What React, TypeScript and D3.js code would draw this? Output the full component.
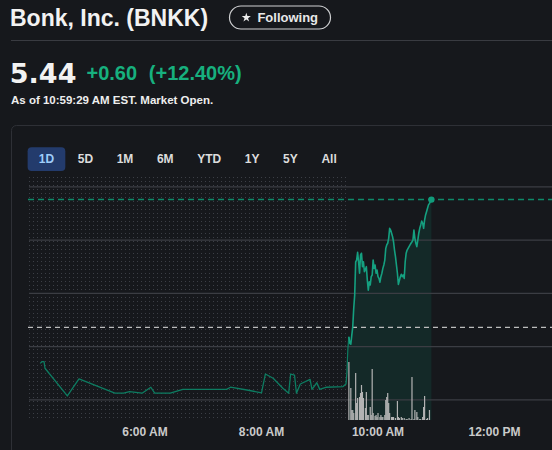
import React, { useMemo } from 'react';
import * as d3 from 'd3';

// Header content
const companyTitle = 'Bonk, Inc. (BNKK)';
const followLabel = 'Following';
const lastPrice = 5.44;
const prevClose = 4.84;
const changeLabel = '+0.60';
const changePctLabel = '(+12.40%)';
const asOfLabel = 'As of 10:59:29 AM EST. Market Open.';
const rangeTabs = ['1D', '5D', '1M', '6M', 'YTD', '1Y', '5Y', 'All'];

// Axes
const priceGrid = [4.5, 4.75, 5.0, 5.25, 5.5];
const timeTicks = ['6:00', '8:00', '10:00', '12:00'];
const dayStart = '4:00';
const dayEnd = '16:00';
const sessionOpen = '9:30';

// Pre-market trades (time, price)
const preTimes = [
  '4:12', '4:14', '4:16', '4:17', '4:40', '4:52', '5:29', '5:38', '5:44', '5:57',
  '6:06', '6:10', '6:26', '6:39', '7:24', '7:28', '7:45', '8:00', '8:04', '8:12',
  '8:22', '8:28', '8:30', '8:34', '8:36', '8:40', '8:50', '8:52', '8:57', '9:00',
  '9:07', '9:24', '9:27', '9:28', '9:29',
];
const prePrices = [
  4.671, 4.679, 4.679, 4.648, 4.518, 4.598, 4.531, 4.531, 4.538, 4.531,
  4.559, 4.531, 4.531, 4.549, 4.549, 4.559, 4.546, 4.533, 4.621, 4.601,
  4.554, 4.531, 4.621, 4.616, 4.531, 4.574, 4.596, 4.549, 4.580, 4.549,
  4.559, 4.562, 4.574, 4.626, 4.740,
];

// Regular session, one price per minute from the open
const sessionPrices = [
  4.796, 4.765, 4.761, 4.804, 4.843, 4.930, 4.992, 5.148, 5.156, 5.192,
  5.148, 5.094, 5.180, 5.188, 5.125, 5.148, 5.101, 5.112, 5.125, 5.062,
  5.015, 5.054, 5.039, 5.078, 5.086, 5.156, 5.117, 5.133, 5.094, 5.109,
  5.078, 5.070, 5.052, 5.078, 5.094, 5.117, 5.133, 5.156, 5.211, 5.227,
  5.235, 5.258, 5.305, 5.297, 5.282, 5.266, 5.242, 5.203, 5.172, 5.133,
  5.094, 5.042, 5.060, 5.078, 5.089, 5.078, 5.086, 5.070, 5.148, 5.188,
  5.203, 5.211, 5.219, 5.227, 5.235, 5.242, 5.250, 5.297, 5.258, 5.235,
  5.219, 5.250, 5.282, 5.305, 5.321, 5.339, 5.329, 5.305, 5.344, 5.368,
  5.383, 5.399, 5.415, 5.422, 5.430, 5.440,
];

// Volume (thousand shares) by minute after the open
const volumeMinutes = [
  0, 2, 3, 4, 5, 7, 8, 9, 11, 12, 13, 14, 15, 17, 18, 19, 20, 22, 23, 24,
  25, 27, 28, 29, 30, 32, 33, 34, 35, 37, 38, 39, 40, 41, 42, 44, 45, 46, 48, 50,
  51, 52, 54, 55, 57, 59, 60, 62, 64, 65, 67, 68, 70, 71, 73, 74, 76, 77, 78, 80,
  81, 83,
];
const volumeK = [
  174, 96, 30, 30, 21, 141, 51, 66, 69, 81, 105, 84, 66, 36, 84, 15, 15, 39, 15, 153,
  21, 12, 15, 9, 21, 9, 15, 9, 9, 15, 60, 69, 81, 51, 21, 9, 9, 9, 6, 57,
  9, 6, 9, 6, 6, 3, 3, 6, 3, 129, 3, 30, 24, 9, 3, 3, 9, 39, 72, 3,
  6, 30,
];

const W = 552;
const H = 450;
const SANS = "'Liberation Sans', Arial, Helvetica, sans-serif";
const BG = '#16181c';
const GREEN = '#17b07e';

const clock = (s: string) => {
  const [h, m] = s.split(':').map(Number);
  return new Date(2025, 0, 15, h, m);
};

const textWidth = (text: string, font: string) => {
  const ctx = document.createElement('canvas').getContext('2d');
  if (!ctx) return text.length * 7;
  ctx.font = font;
  return ctx.measureText(text).width;
};

export default function App() {
  const x = d3.scaleTime().domain([clock(dayStart), clock(dayEnd)]).range([28.5, 727.5]);
  const y = d3.scaleLinear().domain([4.5, 5.5]).range([399.8, 186.8]);
  const volH = d3.scaleLinear().domain([0, 180]).range([0, 60]);

  const plotLeft = 29;
  const plotBottom = 420;
  const openX = x(clock(sessionOpen));

  const pre = preTimes.map((t, i) => ({ t: clock(t), p: prePrices[i] }));
  const session = sessionPrices.map((p, i) => ({ t: d3.timeMinute.offset(clock(sessionOpen), i), p }));
  const preWithJoin = [...pre, session[0]];
  const last = session[session.length - 1];

  const line = d3
    .line<{ t: Date; p: number }>()
    .x((d) => x(d.t))
    .y((d) => y(d.p));
  const area = d3
    .area<{ t: Date; p: number }>()
    .x((d) => x(d.t))
    .y0(plotBottom)
    .y1((d) => y(d.p));

  const tabFont = `bold 12px ${SANS}`;
  const tabs = useMemo(() => {
    let cx = 38.8;
    return rangeTabs.map((label) => {
      const w = textWidth(label, tabFont);
      const item = { label, x: cx, w };
      cx += w + 23.6;
      return item;
    });
  }, []);
  const activeTab = tabs[0];
  const activeCenter = activeTab.x + activeTab.w / 2;

  const fmtTick = d3.timeFormat('%-I:%M %p');

  const star = d3.symbol().type(d3.symbolStar).size(26)();

  return (
    <svg
      width={W}
      height={H}
      style={{ position: 'absolute', left: 0, top: 0, display: 'block' }}
      fontFamily={SANS}
    >
      <defs>
        <pattern id="premarketDots" x={plotLeft} y={177} width={4} height={4} patternUnits="userSpaceOnUse">
          <rect x={0} y={0} width={1} height={1} fill="#3c3f46" />
        </pattern>
      </defs>
      <rect x={0} y={0} width={W} height={H} fill={BG} />

      {/* Header */}
      <text x={10} y={25.5} fontSize={23} fontWeight={700} fill="#f2f2f2">
        {companyTitle}
      </text>
      <rect x={229.5} y={6} width={101} height={23} rx={11.5} fill="none" stroke="#cfd0d2" strokeWidth={1.2} />
      <path d={star ?? ''} transform="translate(246.3,17.6)" fill="#ececec" />
      <text x={257.4} y={21.7} fontSize={13} fontWeight={700} fill="#e8e8e8">
        {followLabel}
      </text>
      <line x1={11} x2={W} y1={40.5} y2={40.5} stroke="#393b41" />

      <text x={9.8} y={83.3} fontSize={27} fontWeight={700} fill="#f2f2f2" fontFamily="'DejaVu Sans', sans-serif">
        {lastPrice.toFixed(2)}
      </text>
      <text x={86.5} y={80} fontSize={20} fontWeight={700} fill={GREEN}>
        {changeLabel}
      </text>
      <text x={148.8} y={80} fontSize={20} fontWeight={700} fill={GREEN}>
        {changePctLabel}
      </text>
      <text x={11} y={104} fontSize={11.5} fontWeight={700} fill="#eeeeee">
        {asOfLabel}
      </text>

      {/* Card */}
      <rect x={11.5} y={125.5} width={700} height={500} rx={5} fill="none" stroke="#2e3036" />

      {/* Range tabs */}
      <rect x={activeCenter - 18.85} y={147.3} width={37.7} height={23.7} rx={4} fill="#233b6c" />
      {tabs.map((t, i) => (
        <text key={t.label} x={t.x} y={163.3} fontSize={12} fontWeight={700} fill={i === 0 ? '#9fcdfa' : '#dcdcdc'}>
          {t.label}
        </text>
      ))}

      {/* Pre-market shading */}
      <rect x={plotLeft} y={177} width={openX - 2 - plotLeft} height={plotBottom - 2 - 177} fill="url(#premarketDots)" />

      {/* Session fill */}
      <path d={area(session) ?? ''} fill="#10936f" fillOpacity={0.14} />

      {/* Price gridlines */}
      {priceGrid.map((p) => (
        <line key={p} x1={plotLeft} x2={W} y1={y(p)} y2={y(p)} stroke="#3b3d43" strokeWidth={1.2} />
      ))}

      {/* Reference levels */}
      <line x1={28} x2={W} y1={y(prevClose)} y2={y(prevClose)} stroke="#bdbdbd" strokeWidth={1.3} strokeDasharray="5 4" />
      <line x1={28} x2={W} y1={y(lastPrice)} y2={y(lastPrice)} stroke="#0e8a69" strokeWidth={1.5} strokeDasharray="6 4" />

      {/* Volume */}
      {volumeMinutes.map((m, i) => {
        const vx = x(d3.timeMinute.offset(clock(sessionOpen), m));
        const h = volH(volumeK[i]);
        return <rect key={m} x={vx - 0.6} y={plotBottom - h} width={1.2} height={h} fill="#b3b3b3" />;
      })}

      {/* Price line */}
      <path d={line(preWithJoin) ?? ''} fill="none" stroke="#0d7c61" strokeWidth={1.3} strokeLinejoin="round" />
      <path d={line(session) ?? ''} fill="none" stroke="#15a080" strokeWidth={1.6} strokeLinejoin="round" />
      <circle cx={x(last.t)} cy={y(last.p)} r={3.2} fill="#119c7b" />

      {/* Time axis */}
      {timeTicks.map((t) => (
        <text key={t} x={x(clock(t))} y={436} textAnchor="middle" fontSize={12} fontWeight={700} fill="#cacaca">
          {fmtTick(clock(t))}
        </text>
      ))}
    </svg>
  );
}
